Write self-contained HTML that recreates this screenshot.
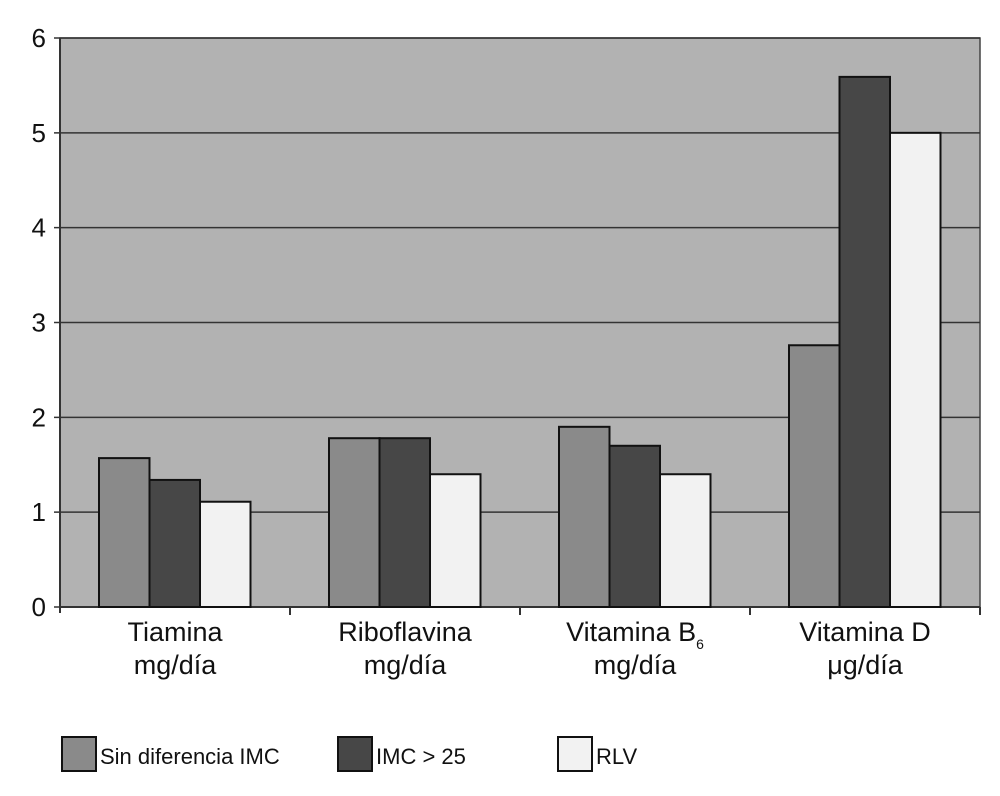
<!DOCTYPE html>
<html><head><meta charset="utf-8"><style>
body{margin:0;background:#fff;font-family:"Liberation Sans",sans-serif}
svg text{font-family:"Liberation Sans",sans-serif;fill:#111}
</style></head><body>
<svg id="chart" width="1000" height="791"></svg>
<script>
const categories=[["Tiamina","mg/día"],["Riboflavina","mg/día"],["Vitamina B","mg/día"],["Vitamina D","μg/día"]];
const sinDiferencia=[1.57,1.78,1.90,2.76];
const imc25=[1.34,1.78,1.70,5.59];
const rlv=[1.11,1.40,1.40,5.00];
const yTicks=[0,1,2,3,4,5,6];
const seriesNames=["Sin diferencia IMC","IMC > 25","RLV"];
const colors=["#8a8a8a","#474747","#f2f2f2"];
const NS="http://www.w3.org/2000/svg";
const svg=document.getElementById('chart');
const L=60,R=980,T=38,B=607,ymax=6;
const y=v=>B-(v/ymax)*(B-T);
const cw=(R-L)/categories.length;
const bw=50.5;
const x=(i,s)=>L+i*cw+39+s*bw;
function el(t,a,p){const e=document.createElementNS(NS,t);for(const k in a)e.setAttribute(k,a[k]);(p||svg).appendChild(e);return e;}
const bg=el('rect',{x:L,y:T,width:R-L,height:B-T,fill:'#b2b2b2',stroke:'#444','stroke-width':1.5});


yTicks.forEach(t=>{
 const g=el('line',{x1:L-6,x2:R,y1:y(t),y2:y(t),stroke:'#333','stroke-width':1.5});
 
 
 const tx=el('text',{x:L-14,y:y(t)+9,'text-anchor':'end','font-size':26});
 tx.textContent=t;
 
 
});
el('line',{x1:L,x2:L,y1:T,y2:B+6,stroke:'#333','stroke-width':2});
el('line',{x1:L,x2:R,y1:B,y2:B,stroke:'#333','stroke-width':2});
const series=[sinDiferencia,imc25,rlv];
categories.forEach((c,i)=>{
 el('line',{x1:L+(i+1)*cw,x2:L+(i+1)*cw,y1:B,y2:B+8,stroke:'#333','stroke-width':2});
 series.forEach((s,j)=>{
  const b=el('rect',{x:x(i,j),y:y(s[i]),width:bw,height:B-y(s[i]),fill:colors[j],stroke:'#111','stroke-width':2});
  
  
 });
 const cx=L+i*cw+cw/2;
 const t1=el('text',{x:cx,y:641,'text-anchor':'middle','font-size':27});
 t1.textContent=c[0];
 if(i===2){const sb=el('tspan',{'font-size':14,dy:8},t1);sb.textContent='6';}
 
 
 const t2=el('text',{x:cx,y:674,'text-anchor':'middle','font-size':27});
 t2.textContent=c[1];
 
 
});
const lx=[62,338,558];
seriesNames.forEach((n,j)=>{
 const r=el('rect',{x:lx[j],y:737,width:34,height:34,fill:colors[j],stroke:'#111','stroke-width':2});
 
 
 const t=el('text',{x:lx[j]+38,y:764,'font-size':22});
 t.textContent=n;
 
 
});
</script>
</body></html>
